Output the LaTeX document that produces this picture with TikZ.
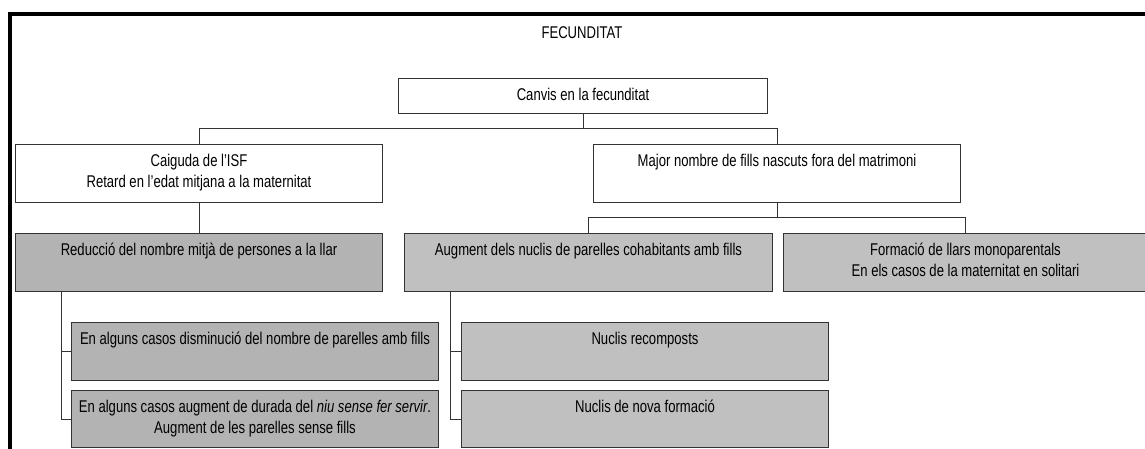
\documentclass[tikz,border=0pt]{standalone}
\usepackage{fontspec}
\setmainfont{Liberation Sans}[FakeStretch=0.77]
\usepackage{xcolor}
\usepackage{tikz}
\definecolor{darkfill}{HTML}{B3B3B3}
\definecolor{lightfill}{HTML}{C0C0C0}
\definecolor{edge}{HTML}{333333}
\tikzset{
    box/.style={draw=edge,line width=1pt,anchor=north west,minimum height=58pt,inner sep=0pt},
    whitebox/.style={box,fill=white},
    darkbox/.style={box,fill=darkfill},
    lightbox/.style={box,fill=lightfill},
    lbl/.style={anchor=north,align=center,inner xsep=0pt,inner ysep=10pt},
    link/.style={draw=edge,line width=1pt},
}

\begin{document}
\begin{tikzpicture}[x=1pt,y=-1pt,font=\fontsize{17}{20.5}\selectfont]
            \useasboundingbox (0,0) rectangle (1145,448);
            \clip (0,0) rectangle (1145,448);
            \draw[line width=4pt] (10,14) rectangle (1170,470);
            \node (title) at (582,33) {FECUNDITAT};

            \node[whitebox,minimum width=369pt,minimum height=35pt,label={[lbl]north:Canvis en la fecunditat}] (canvis) at (398,78) {};
            \node[whitebox,minimum width=367pt,label={[lbl]north:Caiguda de l'ISF\\Retard en l'edat mitjana a la maternitat}] (caiguda) at (15,144) {};
            \node[whitebox,minimum width=367pt,label={[lbl]north:Major nombre de fills nascuts fora del matrimoni}] (major) at (593,144) {};

            \node[darkbox,minimum width=367pt,label={[lbl]north:Reducci\'o del nombre mitj\`a de persones a la llar}] (reduccio) at (15,233) {};
            \node[lightbox,minimum width=368pt,label={[lbl]north:Augment dels nuclis de parelles cohabitants amb fills}] (augment) at (404,233) {};
            \node[lightbox,minimum width=364pt,label={[lbl]north:Formaci\'o de llars monoparentals\\En els casos de la maternitat en solitari}] (formacio) at (783,233) {};

            \node[darkbox,minimum width=367pt,label={[lbl]north:En alguns casos disminuci\'o del nombre de parelles amb fills}] (disminucio) at (71,322) {};
            \node[darkbox,minimum width=367pt,minimum height=57pt,label={[lbl]north:En alguns casos augment de durada del \textit{niu sense fer servir}.\\Augment de les parelles sense fills}] (niu) at (71,390) {};
            \node[lightbox,minimum width=367pt,label={[lbl]north:Nuclis recomposts}] (recomposts) at (461,322) {};
            \node[lightbox,minimum width=367pt,minimum height=57pt,label={[lbl]north:Nuclis de nova formaci\'o}] (nova) at (461,390) {};

            % branches
            \coordinate (busa) at (0,128);
            \coordinate (busb) at (0,217);
            \coordinate (trunka) at (61,291);
            \coordinate (trunkb) at (450,291);
            \draw[link] (canvis.south) -- (canvis.south |- busa);
            \draw[link] (caiguda.north) -- (caiguda.north |- busa) -| (major.north);
            \draw[link] (major.south) -- (major.south |- busb);
            \draw[link] (augment.north) -- (augment.north |- busb) -| (formacio.north);
            \draw[link] (caiguda.south) -- (reduccio.north);
            \draw[link] (trunka) |- (disminucio.west);
            \draw[link] (trunka) |- (niu.west);
            \draw[link] (trunkb) |- (recomposts.west);
            \draw[link] (trunkb) |- (nova.west);
        \end{tikzpicture}
\end{document}
